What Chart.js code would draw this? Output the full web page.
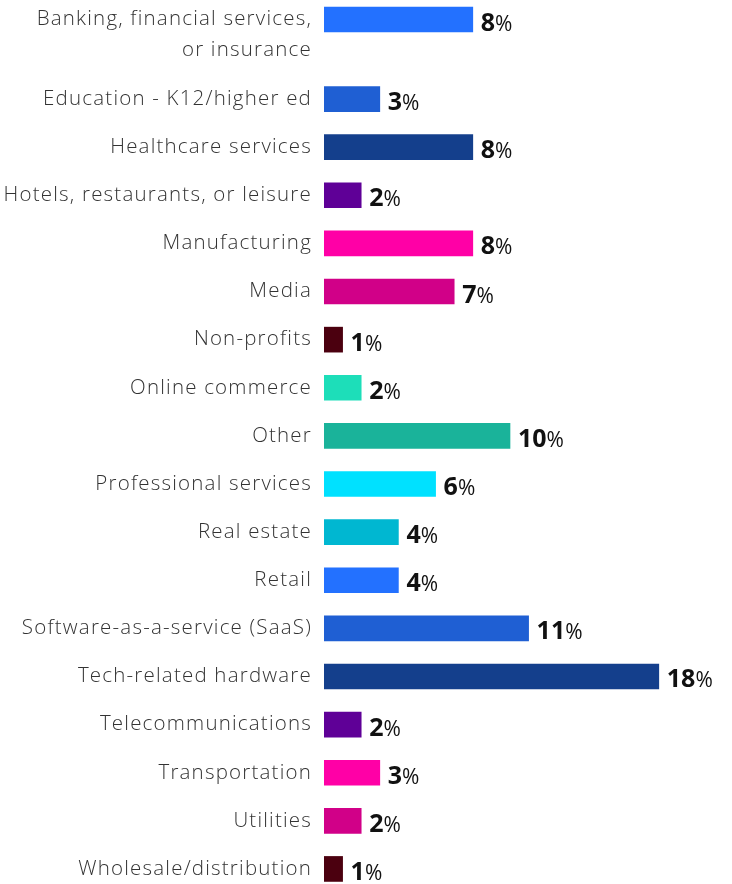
<!DOCTYPE html>
<html>
<head>
<meta charset="utf-8">
<script src="https://cdn.jsdelivr.net/npm/chart.js@4.4.1/dist/chart.umd.min.js"></script>
<style>
  html, body { margin: 0; padding: 0; background: #fff; overflow: hidden; }
  #wrap { position: relative; width: 732px; height: 884px; }
  #boxA { position: absolute; left: 0; top: 0; }
  #boxB { position: absolute; left: 0; top: 75px; }
</style>
</head>
<body>
<div id="wrap">
  <canvas id="boxA" width="732" height="75"></canvas>
  <canvas id="boxB" width="732" height="818"></canvas>
</div>
<script>
// Industry categories (first one wraps onto two lines)
const categories = [
  ['Banking, financial services,', 'or insurance'],
  'Education - K12/higher ed',
  'Healthcare services',
  'Hotels, restaurants, or leisure',
  'Manufacturing',
  'Media',
  'Non-profits',
  'Online commerce',
  'Other',
  'Professional services',
  'Real estate',
  'Retail',
  'Software-as-a-service (SaaS)',
  'Tech-related hardware',
  'Telecommunications',
  'Transportation',
  'Utilities',
  'Wholesale/distribution'
];

// share of respondents, %
const shares = [8, 3, 8, 2, 8, 7, 1, 2, 10, 6, 4, 4, 11, 18, 2, 3, 2, 1];

const barColors = [
  '#2371ff', '#1f5fd3', '#143f8c', '#5f0097', '#ff00a6', '#d10088', '#4b000f',
  '#1ddeb9', '#1ab39a', '#00e1ff', '#00b7d1',
  '#2371ff', '#1f5fd3', '#143f8c', '#5f0097', '#ff00a6', '#d10088', '#4b000f'
];

const X_MAX = 20;

// the original face is wider than Open Sans, so space the axis labels out a bit
const wideText = {
  id: 'wideText',
  beforeDraw(chart) {
    chart.ctx.letterSpacing = '1.2px';
  }
};

// draws "8%" after each bar: bold number, lighter percent sign
const valueLabels = {
  id: 'valueLabels',
  afterDatasetsDraw(chart) {
    const ctx = chart.ctx;
    const meta = chart.getDatasetMeta(0);
    const data = chart.data.datasets[0].data;
    ctx.save();
    ctx.letterSpacing = '0px';
    ctx.fillStyle = '#111';
    ctx.textAlign = 'left';
    ctx.textBaseline = 'alphabetic';
    meta.data.forEach(function (bar, i) {
      const num = String(data[i]);
      const x = bar.x + 8;
      const y = bar.y + 11;
      ctx.font = 'bold 25px "Open Sans"';
      ctx.fillText(num, x, y);
      const w = ctx.measureText(num).width;
      ctx.font = '21px "Open Sans"';
      ctx.fillText('%', x + w, y);
    });
    ctx.restore();
  }
};

function makeChart(canvasId, labels, values, colors, labelOffset, padBottom) {
  return new Chart(document.getElementById(canvasId), {
    type: 'bar',
    data: {
      labels: labels,
      datasets: [{
        data: values,
        backgroundColor: colors,
        borderWidth: 0,
        barThickness: 25
      }]
    },
    options: {
      indexAxis: 'y',
      responsive: false,
      animation: false,
      layout: { padding: { left: 0, right: 36, top: 0, bottom: padBottom } },
      plugins: {
        legend: { display: false },
        tooltip: { enabled: false }
      },
      scales: {
        x: { display: false, min: 0, max: X_MAX },
        y: {
          grid: { display: false, drawTicks: false },
          border: { display: false },
          ticks: {
            autoSkip: false,
            color: '#333',
            padding: 12,
            labelOffset: labelOffset,
            font: { family: 'Open Sans', size: 20.5, weight: 300, lineHeight: 1.52 }
          },
          afterFit: function (s) {
            s.width = 324;
            s.paddingTop = 0;
            s.paddingBottom = 0;
          }
        }
      }
    },
    plugins: [wideText, valueLabels]
  });
}

// top row on its own so the wrapped label gets its extra line of space
makeChart('boxA', categories.slice(0, 1), shares.slice(0, 1), barColors.slice(0, 1), 15.5, 36);
makeChart('boxB', categories.slice(1), shares.slice(1), barColors.slice(1), 0, 0);
</script>
</body>
</html>
